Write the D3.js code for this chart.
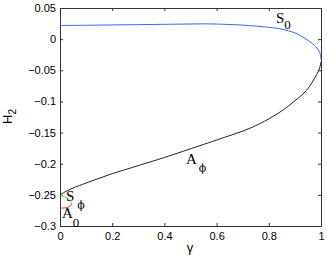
<!DOCTYPE html>
<html>
<head>
<meta charset="utf-8">
<script src="https://cdn.jsdelivr.net/npm/d3@7"></script>
<style>
body { margin: 0; background: #fff; }
svg { display: block; }
.tick text { font-family: Helvetica, Arial, "Liberation Sans", sans-serif; font-size: 11px; fill: #000; }
.lab { font-family: "Liberation Serif", "Times New Roman", serif; fill: #000; }
</style>
</head>
<body>
<script>
// branch S0 (blue)
var s0Gamma = [0, 0.1, 0.2, 0.3, 0.4, 0.5, 0.55, 0.6, 0.7, 0.8, 0.85, 0.9, 0.95, 0.98, 0.995, 1.0];
var s0H2    = [0.022, 0.0223, 0.0228, 0.0233, 0.0238, 0.0243, 0.0245, 0.0242, 0.0225, 0.019, 0.016, 0.010, -0.002, -0.012, -0.021, -0.033];
// branch A_phi (black)
var aPhiGamma = [0, 0.02, 0.05, 0.1, 0.153, 0.2, 0.3, 0.4, 0.536, 0.6, 0.728, 0.8, 0.854, 0.9, 0.945, 0.983, 0.995, 1.0];
var aPhiH2    = [-0.25, -0.245, -0.239, -0.231, -0.223, -0.216, -0.203, -0.19, -0.171, -0.162, -0.143, -0.128, -0.114, -0.099, -0.082, -0.057, -0.046, -0.036];
// branch S_phi (green)
var sPhiGamma = [0, 0.015, 0.03, 0.04, 0.044];
var sPhiH2    = [-0.25, -0.2525, -0.256, -0.26, -0.264];
// branch A0 (red)
var a0Gamma = [0.044, 0.04, 0.025, 0.01, 0];
var a0H2    = [-0.264, -0.268, -0.2705, -0.2712, -0.2715];

var xTicks = [0, 0.2, 0.4, 0.6, 0.8, 1];
var yTicks = [0.05, 0, -0.05, -0.1, -0.15, -0.2, -0.25, -0.3];

var W = 327, H = 256;
var m = {l: 60, r: 6, t: 8, b: 30};

var svg = d3.select("body").append("svg").attr("width", W).attr("height", H);

var x = d3.scaleLinear().domain([0, 1]).range([m.l, W - m.r]);
var y = d3.scaleLinear().domain([-0.3, 0.05]).range([H - m.b, m.t]);

var fmt = function(d){ return d3.format("")(d).replace("-", "\u2212"); };

// axes, ticks pointing inward, box on all sides
svg.append("g").attr("transform", "translate(0," + y(-0.3) + ")")
	.call(d3.axisBottom(x).tickValues(xTicks).tickSizeInner(-3).tickSizeOuter(0).tickPadding(6).tickFormat(fmt));
svg.append("g").attr("transform", "translate(" + x(0) + ",0)")
	.call(d3.axisLeft(y).tickValues(yTicks).tickSizeInner(-3).tickSizeOuter(0).tickPadding(4).tickFormat(fmt));
svg.append("g").attr("transform", "translate(0," + y(0.05) + ")")
	.call(d3.axisTop(x).tickValues(xTicks).tickSizeInner(-3).tickSizeOuter(0).tickFormat(""));
svg.append("g").attr("transform", "translate(" + x(1) + ",0)")
	.call(d3.axisRight(y).tickValues(yTicks).tickSizeInner(-3).tickSizeOuter(0).tickFormat(""));
svg.selectAll(".domain").attr("stroke", "#333");
svg.selectAll(".tick line").attr("stroke", "#333");

var line = d3.line()
	.x(function(d){ return x(d[0]); })
	.y(function(d){ return y(d[1]); })
	.curve(d3.curveCatmullRom);

function draw(g, h, col){
	svg.append("path").datum(d3.zip(g, h))
		.attr("d", line).attr("fill", "none").attr("stroke", col).attr("stroke-width", 1);
}
draw(s0Gamma, s0H2, "#3366ff");
draw(aPhiGamma, aPhiH2, "#222");
draw(sPhiGamma, sPhiH2, "#66dd33");
draw(a0Gamma, a0H2, "#ee3333");

// branch labels
function label(px, py, main, sub, dx, dy, subFont){
	var t = svg.append("text").attr("class", "lab").attr("x", px).attr("y", py).style("font-size", "15px");
	t.append("tspan").text(main);
	var s = t.append("tspan").attr("dx", dx).attr("dy", dy).style("font-size", "13px").text(sub);
	if (subFont) s.style("font-family", subFont).style("font-size", "11px");
}
label(276, 23, "S", "0", 0, 6);
label(186, 164, "A", "\u03d5", 2, 8, "DejaVu Serif");
label(66, 201, "S", "\u03d5", 3, 8, "DejaVu Serif");
label(62, 218, "A", "0", 0, 9);

// axis labels
svg.append("text").attr("class", "lab")
	.attr("x", 190).attr("y", 252).attr("text-anchor", "middle")
	.style("font-family", "Helvetica, Arial, 'Liberation Sans', sans-serif").style("font-size", "13px")
	.text("\u03b3");
var yl = svg.append("text")
	.attr("transform", "translate(12,124) rotate(-90)")
	.style("font-family", "Helvetica, Arial, 'Liberation Sans', sans-serif").style("font-size", "13px");
yl.append("tspan").text("H");
yl.append("tspan").attr("dy", 4).style("font-size", "10px").text("2");
</script>
</body>
</html>
